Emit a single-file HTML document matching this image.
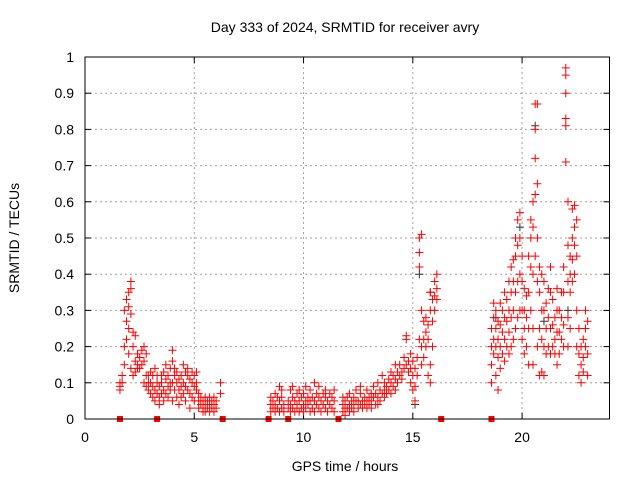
<!DOCTYPE html>
<html><head><meta charset="utf-8"><style>
html,body{margin:0;padding:0;background:#fff}
svg text{font-family:"Liberation Sans",sans-serif;font-size:14px;fill:#000}
</style></head><body>
<svg id="chart" width="640" height="480" xmlns="http://www.w3.org/2000/svg">
<text x="345" y="32" text-anchor="middle">Day 333 of 2024, SRMTID for receiver avry</text>
<text x="345" y="471" text-anchor="middle">GPS time / hours</text>
<text x="19" y="238" text-anchor="middle" transform="rotate(-90 19 238)">SRMTID / TECUs</text>
<g id="grid"></g>
<g id="axes"></g>
<g id="marks"></g>
<rect x="85" y="57" width="524.5" height="362" fill="none" stroke="#000" stroke-width="1"/>
</svg>
<script>
const xTicks=[0,5,10,15,20];
const yTicks=[0,0.1,0.2,0.3,0.4,0.5,0.6,0.7,0.8,0.9,1];
const yTickLabels=["0","0.1","0.2","0.3","0.4","0.5","0.6","0.7","0.8","0.9","1"];
const times=[1.6,1.7,1.8,1.9,2.0,2.1,2.2,2.3,2.4,2.5,2.6,2.7,2.8,2.9,3.0,3.1,3.2,3.3,3.4,3.5,3.6,3.7,3.8,3.9,4.0,4.1,4.2,4.3,4.4,4.5,4.6,4.7,4.8,4.9,5.0,5.1,5.2,5.3,5.4,5.5,5.6,5.7,5.8,5.9,6.0,6.2,
8.5,8.6,8.7,8.8,8.9,9.0,9.1,9.3,9.4,9.5,9.6,9.7,9.8,9.9,10.0,10.1,10.2,10.3,10.4,10.5,10.6,10.7,10.8,10.9,11.0,11.1,11.2,11.3,11.4,
11.8,11.9,12.0,12.1,12.2,12.3,12.4,12.5,12.6,12.7,12.8,12.9,13.0,13.1,13.2,13.3,13.4,13.5,13.6,13.7,13.8,13.9,14.0,14.1,14.2,14.3,14.4,14.5,14.6,14.7,14.8,14.9,15.0,15.1,15.2,15.3,15.4,15.5,15.6,15.7,15.8,15.9,16.0,16.1,
18.6,18.7,18.8,18.9,19.0,19.1,19.2,19.3,19.4,19.5,19.6,19.7,19.8,19.9,20.0,20.1,20.2,20.3,20.4,20.5,20.6,20.7,20.8,20.9,21.0,21.1,21.2,21.3,21.4,21.5,21.6,21.7,21.8,21.9,22.0,22.1,22.2,22.3,22.4,22.5,22.6,22.7,22.8,22.9,23.0];
const values=[[0.09,0.1,0.08],[0.12,0.1],[0.2,0.15,0.3],[0.33,0.27,0.22],[0.35,0.31,0.25,0.18],[0.38,0.36,0.29,0.14],[0.24,0.2,0.12],[0.23,0.16,0.13],[0.18,0.15,0.14],[0.17,0.14],[0.19,0.15],[0.2,0.16,0.1],[0.18,0.12,0.09],[0.12,0.08,0.1],[0.07,0.1,0.13],[0.09,0.06,0.12],[0.14,0.08,0.05],[0.1,0.07,0.12],[0.09,0.06,0.04],[0.1,0.12,0.07],[0.08,0.05,0.13],[0.11,0.15,0.07],[0.09,0.06,0.12],[0.14,0.1,0.08],[0.19,0.16,0.1,0.05],[0.12,0.08,0.14],[0.1,0.06,0.13],[0.08,0.11,0.04],[0.12,0.09,0.06],[0.15,0.1,0.07],[0.13,0.09,0.05],[0.12,0.14,0.08],[0.11,0.07,0.03],[0.1,0.13,0.06],[0.12,0.09,0.05],[0.13,0.08,0.1],[0.07,0.05,0.03],[0.06,0.04],[0.05,0.03,0.02],[0.04,0.06,0.02],[0.05,0.03],[0.04,0.02,0.06],[0.05,0.03],[0.04,0.02,0.06],[0.05,0.03],[0.1,0.07],
[0.04,0.02,0.06],[0.05,0.03],[0.04,0.07,0.02],[0.06,0.03],[0.09,0.05,0.02],[0.06,0.03,0.08],[0.04,0.02],[0.05,0.03],[0.08,0.04,0.02],[0.06,0.03,0.09],[0.05,0.02],[0.07,0.04,0.03],[0.05,0.08,0.02],[0.06,0.03],[0.07,0.04,0.02],[0.05,0.09,0.03],[0.06,0.04],[0.08,0.05,0.02],[0.06,0.03],[0.1,0.05,0.02],[0.07,0.04],[0.06,0.03,0.09],[0.05,0.02],[0.07,0.04],[0.06,0.03,0.08],[0.05,0.02],[0.07,0.04],[0.06,0.03],[0.05,0.08,0.02],
[0.04,0.02,0.06],[0.05,0.03,0.01],[0.06,0.03],[0.04,0.07,0.02],[0.05,0.03],[0.06,0.04,0.02],[0.08,0.05],[0.05,0.03],[0.07,0.04,0.09],[0.05,0.03],[0.06,0.04],[0.08,0.05,0.03],[0.06,0.04],[0.07,0.05,0.03],[0.09,0.06],[0.07,0.04],[0.1,0.06,0.04],[0.08,0.05],[0.12,0.07],[0.1,0.08,0.06],[0.09,0.07],[0.11,0.08],[0.13,0.1,0.07],[0.12,0.09],[0.15,0.11,0.08],[0.13,0.1],[0.15,0.12],[0.13,0.11],[0.17,0.14],[0.23,0.22,0.15],[0.16,0.13],[0.18,0.14,0.1],[0.16,0.12,0.08],[0.14,0.09,0.05],[0.17,0.12],[0.5,0.46,0.42,0.22],[0.51,0.3,0.2,0.15],[0.27,0.22,0.17],[0.28,0.24,0.2],[0.26,0.22,0.12],[0.35,0.3,0.15,0.1],[0.33,0.27,0.2],[0.38,0.34,0.3],[0.4,0.36,0.33],
[0.25,0.2,0.15,0.1],[0.32,0.28,0.22,0.18],[0.3,0.25,0.2,0.12],[0.27,0.22,0.17,0.08],[0.32,0.26,0.2,0.14],[0.3,0.24,0.18],[0.35,0.28,0.22,0.16],[0.33,0.27,0.2],[0.38,0.3,0.24,0.18],[0.42,0.35,0.28,0.2],[0.44,0.38,0.3,0.22],[0.5,0.45,0.35,0.25],[0.55,0.48,0.38,0.28],[0.57,0.5,0.4,0.3],[0.45,0.38,0.3,0.22],[0.36,0.3,0.25,0.18],[0.34,0.28,0.2],[0.45,0.35,0.25,0.15],[0.55,0.5,0.42,0.3],[0.6,0.53,0.4,0.25,0.15],[0.87,0.8,0.72,0.62,0.45],[0.87,0.65,0.5,0.38,0.2],[0.42,0.35,0.25,0.12],[0.4,0.3,0.22,0.13],[0.38,0.3,0.2,0.12],[0.32,0.25,0.18],[0.36,0.28,0.2],[0.42,0.35,0.25,0.18],[0.33,0.26,0.2],[0.28,0.22,0.18],[0.36,0.3,0.24,0.15],[0.3,0.24,0.18],[0.35,0.28,0.22],[0.42,0.35,0.26,0.2],[0.97,0.95,0.9,0.83,0.81,0.71],[0.6,0.48,0.38,0.28,0.2],[0.45,0.4,0.35,0.25],[0.58,0.5,0.44,0.38],[0.59,0.53,0.48,0.4],[0.55,0.45,0.3,0.2],[0.25,0.18,0.12],[0.2,0.15,0.1],[0.22,0.17,0.13],[0.3,0.25,0.2],[0.27,0.18,0.12]];
const blackTimes=[15.3,15.8,18.8,19.9,20.6,21.0,22.1,15.1];
const blackValues=[0.4,0.35,0.28,0.53,0.81,0.27,0.3,0.04];
const gapTimes=[1.6,3.3,6.3,8.4,9.3,11.6,16.3,18.6];

const X0=85,X1=609.5,Y0=419,Y1=57;
const xs=t=>X0+(t/24)*(X1-X0);
const ys=v=>Y0-(v/1)*(Y0-Y1);
const NS="http://www.w3.org/2000/svg";
function mk(tag,parent){const e=document.createElementNS(NS,tag);parent.appendChild(e);return e;}
const grid=document.getElementById('grid'),axes=document.getElementById('axes'),marks=document.getElementById('marks');
xTicks.forEach(t=>{
  const x=xs(t);
  if(t>0){const g=mk('line',grid);g.setAttribute('x1',x);g.setAttribute('x2',x);g.setAttribute('y1',Y1);g.setAttribute('y2',Y0);g.setAttribute('stroke','#a0a0a0');g.setAttribute('stroke-dasharray','2,3');
  
  }
  [[Y0,Y0-6],[Y1,Y1+6]].forEach(p=>{const l=mk('line',axes);l.setAttribute('x1',x);l.setAttribute('x2',x);l.setAttribute('y1',p[0]);l.setAttribute('y2',p[1]);l.setAttribute('stroke','#000');
  
  });
  const tx=mk('text',axes);tx.setAttribute('x',x);tx.setAttribute('y',442);tx.setAttribute('text-anchor','middle');tx.textContent=String(t);
  
  
});
yTicks.forEach((v,i)=>{
  const y=ys(v);
  if(v>0&&v<1){const g=mk('line',grid);g.setAttribute('x1',X0);g.setAttribute('x2',X1);g.setAttribute('y1',y);g.setAttribute('y2',y);g.setAttribute('stroke','#a0a0a0');g.setAttribute('stroke-dasharray','2,3');
  
  }
  [[X0,X0+6],[X1,X1-6]].forEach(p=>{const l=mk('line',axes);l.setAttribute('x1',p[0]);l.setAttribute('x2',p[1]);l.setAttribute('y1',y);l.setAttribute('y2',y);l.setAttribute('stroke','#000');
  
  });
  const tx=mk('text',axes);tx.setAttribute('x',74);tx.setAttribute('y',y+5);tx.setAttribute('text-anchor','end');tx.textContent=yTickLabels[i];
  
  
});
function cross(t,v,col,name){
  const x=xs(t),y=ys(v);
  const p=mk('path',marks);
  p.setAttribute('d',`M${x-4},${y}H${x+4}M${x},${y-4}V${y+4}`);
  p.setAttribute('stroke',col);p.setAttribute('stroke-width','1');
  
  
}
blackTimes.forEach((t,i)=>cross(t,blackValues[i],'#333','dark-point'));
times.forEach((t,i)=>values[i].forEach(v=>cross(t,v,'#ff0000','srmtid-point')));
gapTimes.forEach(t=>{
  const r=mk('rect',marks);r.setAttribute('x',xs(t)-3);r.setAttribute('y',Y0-3);r.setAttribute('width',6);r.setAttribute('height',6);r.setAttribute('fill','#ff0000');
  
  
});
</script>
</body></html>
